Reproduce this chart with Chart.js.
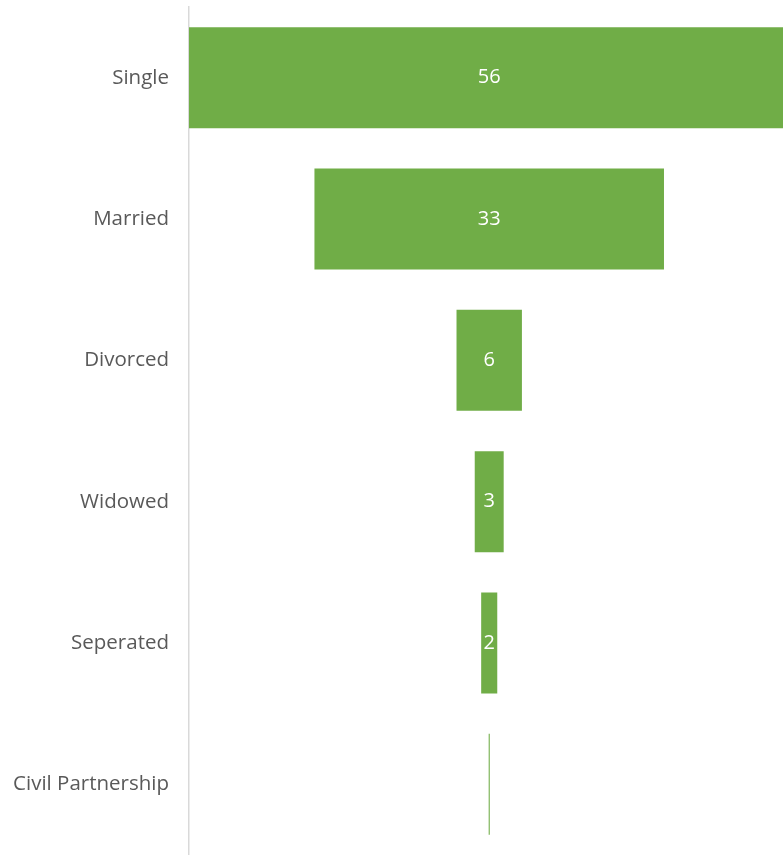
<!DOCTYPE html>
<html>
<head>
<meta charset="utf-8">
<script src="https://cdn.jsdelivr.net/npm/chart.js@4/dist/chart.umd.min.js"></script>
<style>
  html, body { margin: 0; padding: 0; background: #fff; }
  #wrap { width: 783px; height: 855px; position: relative; }
</style>
</head>
<body>
<div id="wrap"><canvas id="funnelChart"></canvas></div>
<script>
// Chart data
const categories = ['Single', 'Married', 'Divorced', 'Widowed', 'Seperated', 'Civil Partnership'];
const values = [56, 32.6, 6.1, 2.7, 1.5, 0.1];

// Funnel: each bar centred on zero
const centred = values.map(v => [-v / 2, v / 2]);

// Value labels in the middle of each bar
const centreLabels = {
    id: 'centreLabels',
    afterDatasetsDraw(chart) {
        const ctx = chart.ctx;
        const meta = chart.getDatasetMeta(0);
        const x = chart.scales.x.getPixelForValue(0);
        ctx.save();
        ctx.fillStyle = '#ffffff';
        ctx.font = '20px "Open Sans", sans-serif';
        ctx.textAlign = 'center';
        ctx.textBaseline = 'middle';
        meta.data.forEach((bar, i) => {
            const v = Math.round(values[i]);
            if (v > 0) ctx.fillText(v, x, bar.y);
        });
        ctx.restore();
    }
};

function initFunnelChart() {
    const el = document.getElementById('funnelChart');
    if (!el) return;

    new Chart(el, {
        type: 'bar',
        data: {
            labels: categories,
            datasets: [{
                data: centred,
                backgroundColor: '#70AD47',
                borderWidth: 0,
                barPercentage: 0.715,
                categoryPercentage: 1,
                minBarLength: 1
            }]
        },
        options: {
            indexAxis: 'y',
            responsive: true,
            maintainAspectRatio: false,
            animation: false,
            layout: { autoPadding: false, padding: { top: 7, right: 0, bottom: 0, left: 0 } },
            plugins: {
                legend: { display: false },
                tooltip: { enabled: false }
            },
            scales: {
                x: {
                    display: false,
                    min: -28,
                    max: 27.4
                },
                y: {
                    grid: { display: false, drawTicks: false },
                    border: { color: '#d9d9d9', width: 1.5 },
                    ticks: {
                        color: '#595959',
                        padding: 20,
                        font: { family: '"Open Sans", sans-serif', size: 20.5 }
                    },
                    afterFit(scale) {
                        scale.width = 189;
                        scale.paddingTop = 0;
                        scale.paddingBottom = 0;
                    }
                }
            }
        },
        plugins: [centreLabels]
    });
}

initFunnelChart();
</script>
</body>
</html>
